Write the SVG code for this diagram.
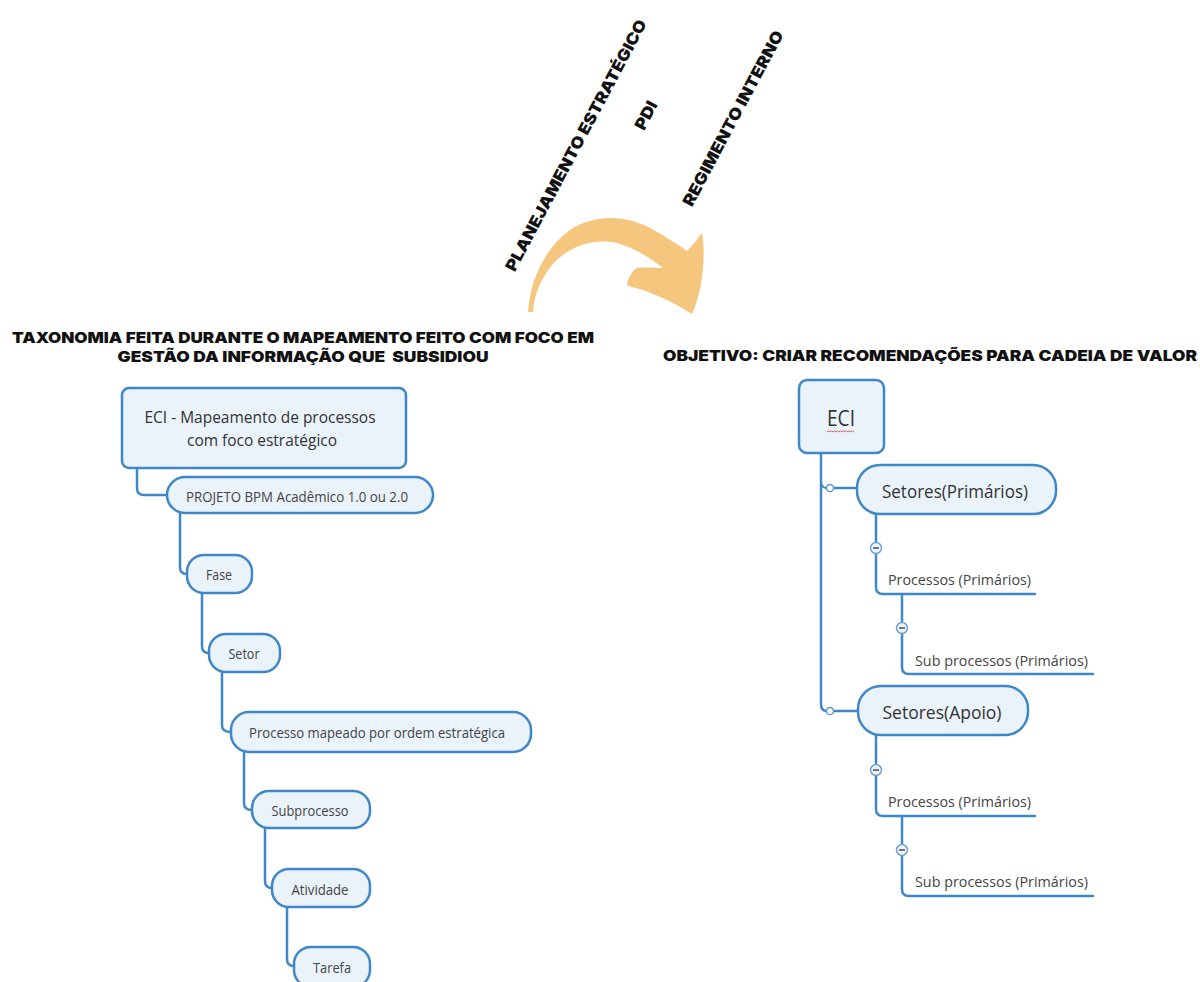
<svg xmlns="http://www.w3.org/2000/svg" width="1200" height="982" viewBox="0 0 1200 982">
  <defs>
    <style>
      .title { font-family: "Inter", "Liberation Sans", sans-serif; font-weight: 900; font-size: 15px; fill: #111; }
      .rot { font-family: "Inter", "Liberation Sans", sans-serif; font-weight: 900; font-size: 16px; fill: #111; }
      .box { fill: #EAF2FA; stroke: #3F87C8; stroke-width: 2.5; }
      .lbl { font-family: "Open Sans", "Noto Sans", "Liberation Sans", sans-serif; fill: #444; }
      .big { font-family: "Open Sans", "Noto Sans", "Liberation Sans", sans-serif; fill: #333; }
      .link { fill: none; stroke: #3F87C8; stroke-width: 2.5; stroke-linecap: round; }
      .thin { fill: none; stroke: #3F87C8; stroke-width: 1.8; }
      .knob { fill: #ffffff; stroke: #5B97D0; stroke-width: 1.5; }
      .fold { fill: #EEF4FA; stroke: #6FA3D6; stroke-width: 1.5; }
      .dash { stroke: #555; stroke-width: 1.6; }
    </style>
  </defs>

  <!-- rotated source labels -->
  <g id="sources">
    <text class="rot" transform="translate(581,148) rotate(-62)" text-anchor="middle" textLength="282" lengthAdjust="spacingAndGlyphs">PLANEJAMENTO ESTRATÉGICO</text>
    <text class="rot" transform="translate(651,118) rotate(-62)" text-anchor="middle" textLength="30" lengthAdjust="spacingAndGlyphs">PDI</text>
    <text class="rot" transform="translate(738,121) rotate(-62)" text-anchor="middle" textLength="196" lengthAdjust="spacingAndGlyphs">REGIMENTO INTERNO</text>
  </g>

  <!-- curved orange arrow -->
  <g id="flow-arrow">
    <path fill="#F5C77E" d="M528,312 C530,280 545,248 570,230 C595,214 625,215 650,228 C665,236 677,244 687,251 C693,245 698,238 702,233 C706,255 703,290 692,314 C680,306 660,296 643,290 C636,288 630,287 627,285 C628,278 632,271 637,268 C645,267 655,268 663,268 C650,258 632,246 612,242 C590,239 568,247 552,265 C540,280 534,296 533,312 Z"/>
  </g>

  <!-- headings -->
  <g id="headings">
    <text class="title" x="303" y="343" text-anchor="middle" textLength="582" lengthAdjust="spacingAndGlyphs">TAXONOMIA FEITA DURANTE O MAPEAMENTO FEITO COM FOCO EM</text>
    <text class="title" x="303" y="362" text-anchor="middle" textLength="371" lengthAdjust="spacingAndGlyphs" xml:space="preserve">GESTÃO DA INFORMAÇÃO QUE  SUBSIDIOU</text>
    <text class="title" x="930" y="361" text-anchor="middle" textLength="534" lengthAdjust="spacingAndGlyphs">OBJETIVO: CRIAR RECOMENDAÇÕES PARA CADEIA DE VALOR</text>
  </g>

  <!-- connectors -->
  <g id="connectors">
    <!-- left tree -->
    <path class="link" d="M137,468 V488 Q137,495 144,495 H167"/>
    <path class="link" d="M180,513 V567 Q180,574 187,574"/>
    <path class="link" d="M202,593 V646 Q202,653 209,653"/>
    <path class="link" d="M222,672 V725 Q222,732 231,732"/>
    <path class="link" d="M244,752 V803 Q244,810 252,810"/>
    <path class="link" d="M265,828 V881 Q265,888 272,888"/>
    <path class="link" d="M287,907 V959 Q287,966 294,966"/>

    <!-- right tree trunk -->
    <path class="link" d="M821,453 V704 Q821,711 827,711"/>
    <path class="thin" d="M821,481 Q821,488 827,488"/>
    <path class="link" d="M834,488 H858"/>
    <path class="link" d="M834,711 H858"/>

    <!-- primary sector branches -->
    <path class="link" d="M876,514 V587 Q876,594 883,594 H1035"/>
    <path class="link" d="M902,594 V667 Q902,674 909,674 H1093"/>
    <!-- support sector branches -->
    <path class="link" d="M876,735 V809 Q876,816 883,816 H1035"/>
    <path class="link" d="M902,816 V889 Q902,896 909,896 H1093"/>

    <!-- junction knobs -->
    <circle class="knob" cx="830" cy="488" r="3.6"/>
    <circle class="knob" cx="830" cy="711" r="3.6"/>

    <!-- collapse toggles -->
    <g>
      <circle class="fold" cx="876" cy="548" r="5.5"/><line class="dash" x1="873" y1="548" x2="879" y2="548"/>
      <circle class="fold" cx="902" cy="628" r="5.5"/><line class="dash" x1="899" y1="628" x2="905" y2="628"/>
      <circle class="fold" cx="876" cy="770" r="5.5"/><line class="dash" x1="873" y1="770" x2="879" y2="770"/>
      <circle class="fold" cx="902" cy="850" r="5.5"/><line class="dash" x1="899" y1="850" x2="905" y2="850"/>
    </g>
  </g>

  <!-- left tree nodes -->
  <g id="eci-mapeamento">
    <rect class="box" x="122" y="388" width="284" height="80" rx="7"/>
    <text class="big" x="260" y="423" text-anchor="middle" font-size="17" textLength="231" lengthAdjust="spacingAndGlyphs">ECI - Mapeamento de processos</text>
    <text class="big" x="262" y="446" text-anchor="middle" font-size="17" textLength="150" lengthAdjust="spacingAndGlyphs">com foco estratégico</text>
  </g>
  <g id="projeto-bpm">
    <rect class="box" x="167" y="477" width="266" height="36" rx="18"/>
    <text class="lbl" x="297" y="502" text-anchor="middle" font-size="14.5" textLength="222" lengthAdjust="spacingAndGlyphs">PROJETO BPM Acadêmico 1.0 ou 2.0</text>
  </g>
  <g id="fase">
    <rect class="box" x="187" y="555" width="65" height="38" rx="17"/>
    <text class="lbl" x="219" y="580" text-anchor="middle" font-size="14.5" textLength="26" lengthAdjust="spacingAndGlyphs">Fase</text>
  </g>
  <g id="setor">
    <rect class="box" x="209" y="634" width="71" height="38" rx="17"/>
    <text class="lbl" x="244" y="659" text-anchor="middle" font-size="14.5" textLength="31" lengthAdjust="spacingAndGlyphs">Setor</text>
  </g>
  <g id="processo">
    <rect class="box" x="231" y="712" width="300" height="40" rx="18"/>
    <text class="lbl" x="377" y="738" text-anchor="middle" font-size="14.5" textLength="256" lengthAdjust="spacingAndGlyphs">Processo mapeado por ordem estratégica</text>
  </g>
  <g id="subprocesso">
    <rect class="box" x="252" y="791" width="118" height="37" rx="17"/>
    <text class="lbl" x="310" y="816" text-anchor="middle" font-size="14.5" textLength="77" lengthAdjust="spacingAndGlyphs">Subprocesso</text>
  </g>
  <g id="atividade">
    <rect class="box" x="272" y="869" width="98" height="38" rx="17"/>
    <text class="lbl" x="320" y="895" text-anchor="middle" font-size="14.5" textLength="57" lengthAdjust="spacingAndGlyphs">Atividade</text>
  </g>
  <g id="tarefa">
    <rect class="box" x="294" y="947" width="76" height="40" rx="17"/>
    <text class="lbl" x="332" y="973" text-anchor="middle" font-size="14.5" textLength="38" lengthAdjust="spacingAndGlyphs">Tarefa</text>
  </g>

  <!-- right tree nodes -->
  <g id="eci">
    <rect class="box" x="799" y="380" width="85" height="73" rx="8"/>
    <text class="big" x="841" y="426" text-anchor="middle" font-size="21" textLength="28" lengthAdjust="spacingAndGlyphs">ECI</text>
    <path d="M827,432 l1.5,-1.2 l1.5,1.2 l1.5,-1.2 l1.5,1.2 l1.5,-1.2 l1.5,1.2 l1.5,-1.2 l1.5,1.2 l1.5,-1.2 l1.5,1.2 l1.5,-1.2 l1.5,1.2 l1.5,-1.2 l1.5,1.2 l1.5,-1.2 l1.5,1.2 l1.5,-1.2 l1.5,1.2" fill="none" stroke="#E05050" stroke-width="0.9"/>
  </g>
  <g id="setores-primarios">
    <rect class="box" x="857" y="465" width="199" height="49" rx="23"/>
    <text class="big" x="955" y="498" text-anchor="middle" font-size="19" textLength="146" lengthAdjust="spacingAndGlyphs">Setores(Primários)</text>
  </g>
  <g id="processos-primarios-1">
    <text class="lbl" x="888" y="585" font-size="15" textLength="143" lengthAdjust="spacingAndGlyphs">Processos (Primários)</text>
  </g>
  <g id="subprocessos-primarios-1">
    <text class="lbl" x="915" y="666" font-size="15" textLength="173" lengthAdjust="spacingAndGlyphs">Sub processos (Primários)</text>
  </g>
  <g id="setores-apoio">
    <rect class="box" x="858" y="686" width="170" height="49" rx="23"/>
    <text class="big" x="942" y="719" text-anchor="middle" font-size="19" textLength="119" lengthAdjust="spacingAndGlyphs">Setores(Apoio)</text>
  </g>
  <g id="processos-primarios-2">
    <text class="lbl" x="888" y="807" font-size="15" textLength="143" lengthAdjust="spacingAndGlyphs">Processos (Primários)</text>
  </g>
  <g id="subprocessos-primarios-2">
    <text class="lbl" x="915" y="887" font-size="15" textLength="173" lengthAdjust="spacingAndGlyphs">Sub processos (Primários)</text>
  </g>
</svg>
